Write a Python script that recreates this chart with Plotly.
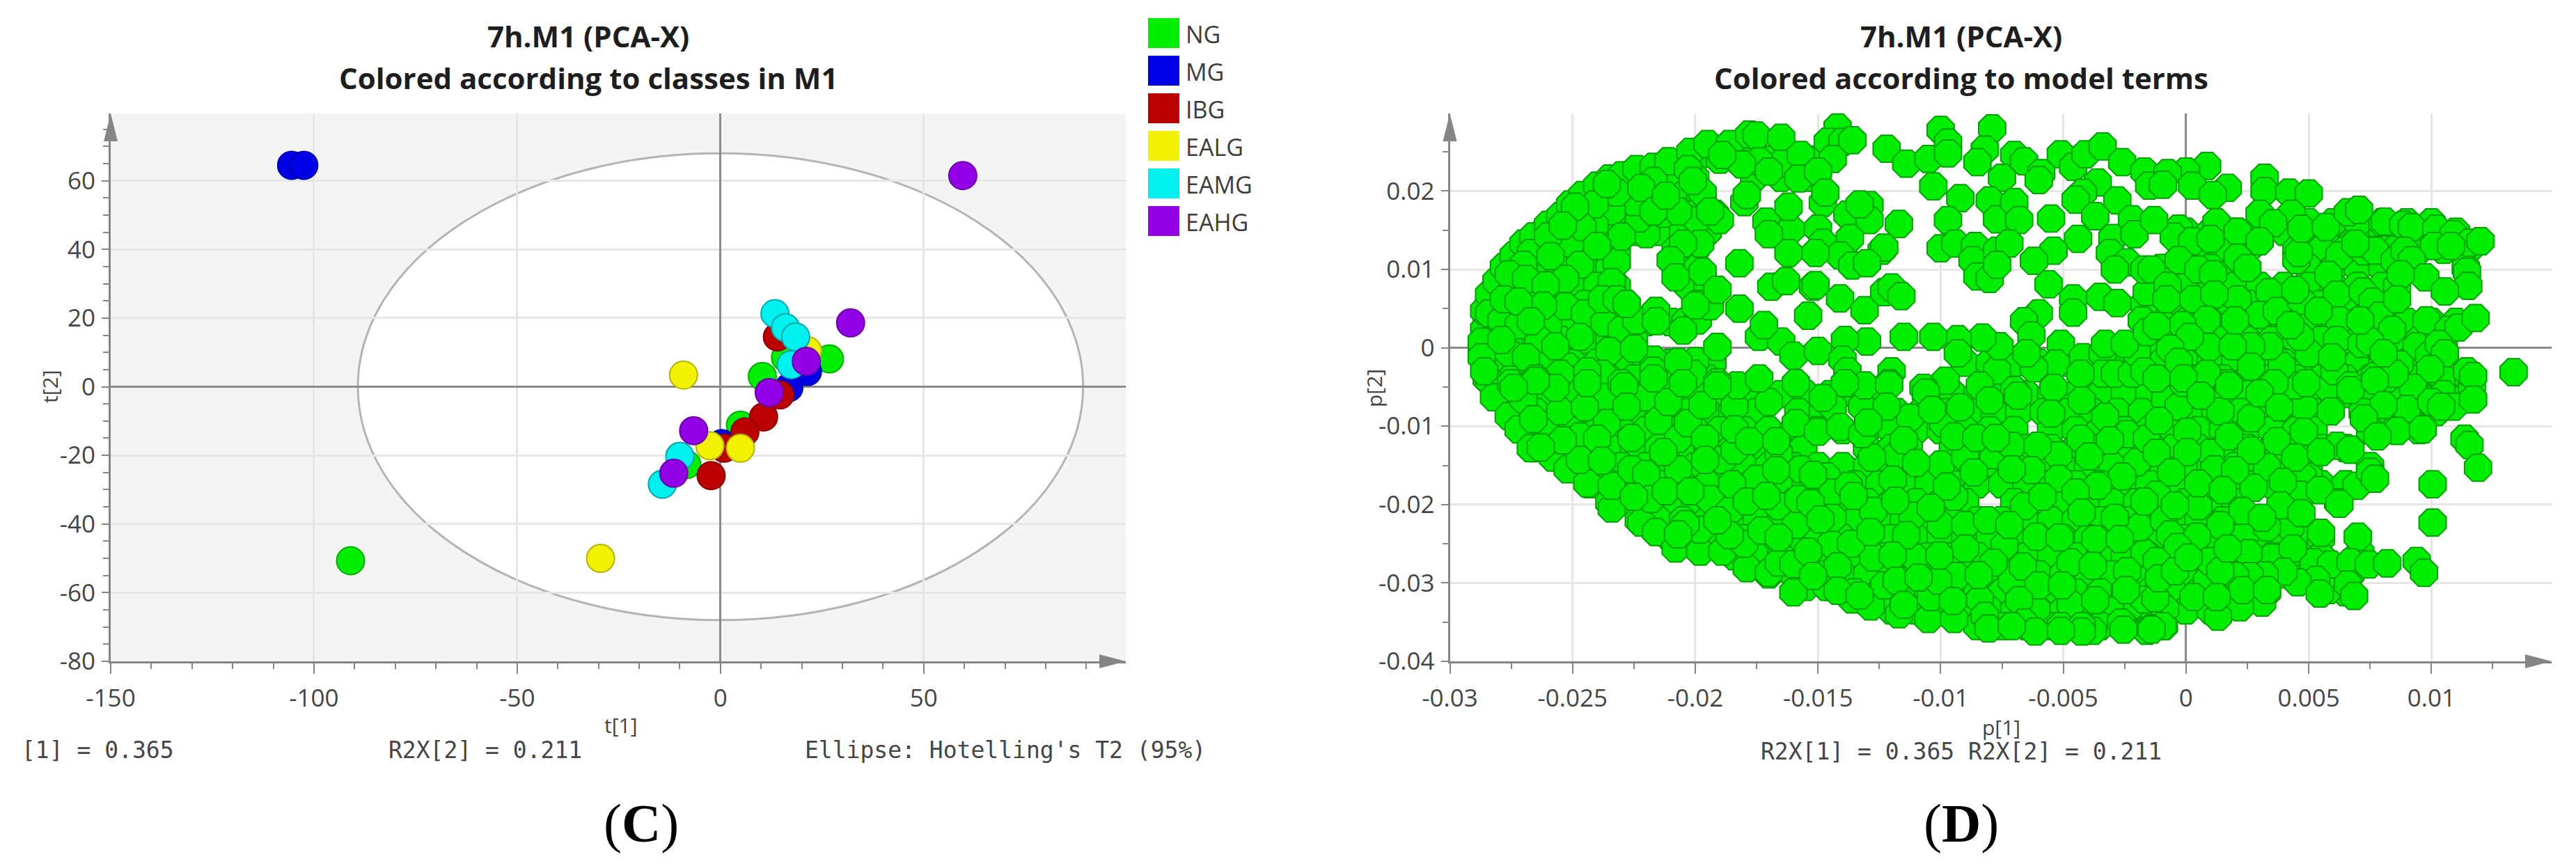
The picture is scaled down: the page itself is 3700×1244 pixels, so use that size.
import plotly.graph_objects as go
from plotly.subplots import make_subplots

W, H = 3700, 1244

# ---------- Panel C: PCA scores ----------
CLASS_NAMES = ["NG", "MG", "IBG", "EALG", "EAMG", "EAHG"]
CLASS_COLORS = ["#00ee00", "#0000e6", "#bb0000", "#f2f200", "#00f0f0", "#9400e6"]
CLASS_RIMS = ["#00b000", "#0000b0", "#8c0000", "#b4b400", "#00a8a8", "#6c00a8"]

NG_T1 = [-91.0, 26.8, 16.0, 10.3, 4.9, -8.3]
NG_T2 = [-50.7, 8.1, 8.5, 3.0, -11.2, -22.7]
MG_T1 = [-105.5, -102.5, 21.4, 16.8, 0.3]
MG_T2 = [64.5, 64.5, 4.4, -0.3, -16.6]
IBG_T1 = [14.0, 14.6, 10.6, 6.0, 0.9, -2.3]
IBG_T2 = [14.5, -2.4, -8.8, -13.2, -17.9, -25.9]
EALG_T1 = [-29.5, 21.4, -9.1, -2.6, 4.9]
EALG_T2 = [-50.0, 10.5, 3.4, -17.2, -17.9]
EAMG_T1 = [13.4, 16.0, 18.5, 17.4, -10.0, -14.3]
EAMG_T2 = [21.3, 17.2, 14.5, 6.4, -20.3, -28.4]
EAHG_T1 = [59.6, 32.0, 21.1, 12.0, -6.6, -11.5]
EAHG_T2 = [61.5, 18.6, 7.4, -1.7, -12.8, -25.2]
CLASS_T1 = [NG_T1, MG_T1, IBG_T1, EALG_T1, EAMG_T1, EAHG_T1]
CLASS_T2 = [NG_T2, MG_T2, IBG_T2, EALG_T2, EAMG_T2, EAHG_T2]

T_X_TICKS = [-150, -100, -50, 0, 50]
T_Y_TICKS = [-80, -60, -40, -20, 0, 20, 40, 60]
ELLIPSE_RX, ELLIPSE_RY = 89.2, 68.0

# ---------- Panel D: PCA loadings, in units of 0.001 (p[1], p[2]) ----------
# Dense body of the cloud, read row by row: (p[2], [p[1], ...])
BODY_ROWS = [
 (24.0, [-20,-19,-18,-17,-16,-15]),
 (21.7, [-23,-22,-21,-20,-17.6,-16.5,-15.5]),
 (19.4, [-24.5,-23.5,-22.5,-21.5,-20.5,-19.8]),
 (17.1, [-25,-24,-23,-22,-21,-20,-19.2]),
 (14.8, [-26.2,-25.5,-24.5,-23.5,-22.5,-21.5,-20.5,-19.5, 0,1,2,3,4,5,6,7,8,9,10,11]),
 (16.0, [5,6,7,8,9,10]),
 (12.5, [-27,-26,-25,-24,-23.2,-20.8,-20, 0.5,1.5,2.5,4.5,5.5,6.5,7.5,8.5,9.5,10.5,11.5]),
 (10.2, [-27.5,-26.5,-25.5,-24.5,-23.5,-20.7,-19.9, -1,0,1,2,5,6,7,8,9,11.4]),
 (7.9, [-28,-27,-26,-25,-24,-23.2,-20.3,-19.5, -1,0,1,2,3,4,5,6,7,8,8.6]),
 (5.6, [-28.4,-27.5,-26.5,-25.5,-24.5,-23.5,-22.8,-19.9, -1.4,-0.5,0.5,1.5,2.5,3.5,4.5,5.5,6.5,7.5,8.5]),
 (3.3, [-28.5,-28,-27,-26,-25,-24,-23,-22,-21,-20.4, -1,0,1,2,3,4,5,6,7,8,9,10,11]),
 (1.0, [-28.5,-27.5,-26.5,-25.5,-24.5,-23.5,-22.5, -1.4,-0.5,0.5,1.5,2.5,3.5,4.5,5.5,6.5,7.5,8.5,9.5,10.5]),
 (-1.9, [-28.5,-28,-27,-26,-25,-24,-23,-22,-21,-20,-19.3, -9,-8,-7,-6,-5,-4,-3,-2,-1,0,1,2,3,4,5,6,7,8,9,10]),
 (-3.9, [-28.5,-27.5,-26.5,-25.5,-24.5,-23.5,-22.5,-21.5,-20.5,-19.5, -0.5,0.5,1.5,2.5,3.5,4.5,5.5,6.5,7.5,8.5,9.5,10.5,11.5]),
 (-5.9, [-28,-27,-26,-25,-24,-23,-22,-21,-20,-19,-18,-16.5,-15.5,-14.5,-13.5,-12.5,-10.6,-9.5,-8.5,-7.5,-6.5,-5.5,-4.5,-3.5,-2.5,-1.5,-0.5,0.5,1.5,2.5,3.5,4.5,5.5,6.5,7.5,8.5,9.5,10.5,11.5]),
 (-8.2, [-27.5,-26.5,-25.5,-24.5,-23.5,-22.5,-21.5,-20.5,-19.5,-18.5,-17.5,-15.8,-14.8,-12.8,-11.8,-10.8,-9.8,-8.8,-7.8,-6.8,-5.8,-4.8,-3.8,-2.8,-1.8,-0.8,0.2,1.2,2.2,3.2,4.2,5.2,7.2,8.2,9.2,10.2]),
 (-10.5, [-27,-26,-25,-24,-23,-22,-21,-20,-19,-18,-17,-16,-15,-14,-13,-12,-11,-10,-9,-8,-7,-5.5,-4.5,-3.5,-2.5,-1.5,-0.5,0.5,1.5,2.5,3.5,4.5,5.2,7.5,8.5,9.5]),
 (-12.8, [-26.5,-25.5,-24.5,-23.5,-22.5,-21.5,-20.5,-19.5,-18.5,-17.5,-16.5,-15.6,-13,-12,-11.3,-9.5,-8.5,-7.5,-6.5,-5.5,-4.5,-3.5,-2.5,-1.5,-0.5,0.5,1.5,2.5,3.5,4.5,5.5,6.5]),
 (-15.1, [-25,-24,-23,-22,-21,-20,-19,-18,-17,-16,-15,-14,-13,-12,-11,-10,-9,-8,-7,-6,-5,-4,-3,-2,-1,0,1,2,3,4,5,7.5]),
 (-17.4, [-24.3,-23.5,-22.5,-21.5,-20.5,-19.5,-18.5,-17.5,-16.5,-15.5,-14.5,-13.5,-12.5,-11.5,-10.5,-9.5,-8.5,-7.5,-6.5,-5.5,-4.5,-3.5,-2.5,-1.5,-0.5,0.5,1.5,2.5,3.5,4.5,5.5,6.5]),
 (-19.7, [-23.5,-23,-22,-21,-20,-19,-18,-17,-16,-15,-14,-13,-12,-11,-10,-9,-7,-6,-5,-4,-3,-2,-1,0,1,2,4,4.6,6.2]),
 (-22.0, [-22.3,-21.5,-20.5,-19.5,-18.5,-17.5,-16.5,-15.5,-14.5,-13.5,-12.5,-11.5,-10.5,-9.5,-8.5,-7.5,-6.5,-5.5,-4.5,-3.5,-2.5,-1.5,-0.5,0.5,1.5,2.5,3.5,4.5]),
 (-24.3, [-21,-20,-19,-18,-17,-16,-15,-14,-13,-12,-11,-10,-9,-8,-7,-6,-5,-4,-3,-2,-1,0,1,2,3,4,5,5.5]),
 (-26.6, [-18.4,-17.5,-16.5,-15.5,-14.5,-13.5,-12.5,-11.5,-10.5,-9.5,-8.5,-7.5,-6.5,-5.5,-4.5,-3.5,-2.5,-1.5,-0.5,0.5,1.5,2.5,3.5,4.5,5.5,7]),
 (-28.9, [-17,-16,-15,-14,-13,-12,-11,-10,-9,-8,-7,-6,-5,-4,-3,-2,-1,0,1,2,3,4,5,6,6.7]),
 (-30.5, [-15.5,-14.5]),
 (-31.2, [-13.5,-12.5,-11.5,-10.5,-9.5,-8.5,-7.5,-6.5,-5.5,-4.5,-3.5,-2.5,-1.5,-0.5,0.5,1.5,2.5,3.3,5.5,6.5]),
 (-33.5, [-12,-11,-10,-9,-8,-7,-6,-5,-4,-3,-2,-1,0,1,1.5]),
 (-35.5, [-8.5,-7.5,-6.5,-5.5,-4.5,-3.5,-2.5,-1.5,-0.9]),
]
UPPER_LEFT_EDGE = [(-28.7,-0.05),(-28.6,2.3),(-28.6,4.7),(-28.4,6.8),(-28.1,8.5),(-27.8,10.3),(-27.4,11.8),(-27.0,13.3),(-26.6,14.2),(-26.0,15.7),(-25.5,16.8),(-25.1,18.3),(-24.6,19.5),(-24.0,20.7),(-23.5,21.6),(-23.0,22.0),(-22.4,22.8),(-21.7,23.1),(-21.1,23.8),(-20.2,25.0),(-19.5,26.0),(-18.6,26.0),(-17.8,27.2),(-17.5,27.1),(-16.5,26.8)]
UPPER_LEFT_FILL = [(-22.0,14.5),(-21.3,17.1),(-19.9,16.3),(-19.0,16.3),(-19.8,13.3),(-22.3,16.5),(-22.5,18.6),(-21.7,21.3),(-23.4,17.4),(-24.1,15.6),(-25.1,13.3),(-23.2,10.9),(-24.7,10.6),(-25.3,8.8),(-26.7,12.1),(-28.4,4.4),(-27.9,3.5),(-28.7,0.8),(-28.7,-1.2),(-27.6,-0.6),(-26.0,2.9),(-25.3,5.3),(-24.5,4.4),(-23.7,3.2),(-23.0,2.3),(-22.4,3.5),(-23.5,-0.4),(-21.7,-1.5),(-25.2,-2.4),(-23.8,-3.3),(-20.0,-1.7),(-20.1,-3.3),(-21.0,-4.2),(-25.5,-3.3),(-26.4,1.1),(-27.2,2.9),(-19.9,3.5),(-19.4,5.3),(-20.7,17.4),(-20.3,22.8),(-23.2,19.8),(-24.1,18.3),(-26.0,14.2),(-27.0,10.6),(-22.2,20.4),(-24.6,15.4),(-21.7,17.4)]
UPPER_LEFT_SEEN = [(-23.6,20.9),(-24.9,18.0),(-25.4,15.6),(-23.0,14.2),(-24.0,13.0),(-25.9,11.7),(-27.6,9.4),(-26.9,8.8),(-26.1,8.0),(-23.4,8.4),(-26.2,5.4),(-27.8,6.2),(-27.2,5.9),(-23.8,6.2),(-23.2,6.2),(-22.8,5.6),(-26.7,3.4),(-24.7,1.4),(-27.9,1.0),(-25.7,0.2),(-26.9,-1.2),(-22.5,-0.1),(-24.4,-3.0),(-21.7,-2.9),(-20.7,-1.8),(-26.5,-3.9),(-27.5,-4.5),(-28.6,-3.0),(-23.0,-4.5),(-21.2,19.4),(-19.7,19.8),(-19.4,17.4),(-20.5,13.3),(-21.0,11.2),(-20.8,9.0),(-19.7,9.7),(-19.1,7.4),(-20.0,5.4),(-20.5,2.2),(-21.6,4.7),(-21.6,3.4),(-20.1,21.3),(-19.1,0.1),(-18.2,5.0),(-18.0,18.6),(-17.9,19.5),(-18.2,10.8),(-16.9,7.8),(-16.3,8.5),(-17.4,1.4),(-16.5,0.8),(-16.0,-1.0),(-17.4,-3.9),(-19.1,-4.4),(-17.1,16.1),(-16.1,15.1),(-16.2,12.1),(-16.2,18.0),(-17.0,14.5),(-17.2,2.9),(-16.5,23.5),(-17.4,23.8),(-18.1,23.4),(-18.9,24.6),(-15.7,24.6),(-15.8,21.6),(-17.0,22.5)]
UPPER_MID = [(-14.2,28.1),(-14.6,26.3),(-14.0,26.3),(-13.6,26.5),(-14.4,24.1),(-12.2,25.4),(-11.4,23.5),(-10.5,24.1),(-10.0,27.8),(-9.7,26.2),(-9.7,24.8),(-7.9,28.0),(-8.2,25.3),(-8.5,23.7),(-10.3,20.6),(-7.0,24.6),(-6.6,23.8),(-5.9,22.3),(-6.0,21.4),(-7.5,21.7),(-5.1,24.7),(-4.6,23.1),(-4.1,24.7),(-3.4,25.7),(-2.6,23.7),(-3.6,21.1),(-4.2,19.8),(-4.5,18.9),(-2.8,18.8),(-1.7,22.5),(-1.5,20.7),(-3.7,16.8),(-2.2,16.4),(-5.5,16.5),(-4.4,13.9),(-3.0,14.0),(-2.1,14.5),(-3.1,12.1),(-2.4,10.9),(-2.9,10.0),(-5.4,12.4),(-6.2,11.1),(-5.6,8.1),(-4.6,6.3),(-3.5,6.5),(-2.8,5.7),(-4.6,4.5),(-6.0,4.4),(-6.6,3.4),(-6.3,1.6),(-5.1,0.5),(-5.3,-2.0),(-6.2,-2.6),(-6.5,-0.7),(-7.7,-2.9),(-7.6,0.2),(-8.3,1.3),(-9.3,1.1),(-10.3,1.4),(-9.3,-0.7),(-11.5,1.4),(-13.0,0.8),(-13.9,1.0),(-15.0,-0.4),(-14.0,-1.5),(-13.8,-3.0),(-13.9,-4.5),(-12.0,-3.0),(-12.1,-4.5),(-13.1,-4.8),(-9.8,-4.2),(-10.7,-5.1),(-8.4,-4.8),(-7.0,-5.4),(-5.4,-5.1),(-4.2,-1.2),(-3.4,-0.7),(-3.4,-3.3),(-2.9,-3.3),(-2.2,-3.3),(-2.0,-0.7),(-3.3,0.5),(-2.5,0.5),(-4.3,-3.3),(-1.7,5.6),(-1.6,7.1),(-1.8,3.5),(-1.6,2.0),(-1.7,10.0),(-1.7,-3.0),(-14.8,18.5),(-13.8,17.0),(-12.9,18.2),(-12.9,16.3),(-11.7,15.8),(-15.0,15.2),(-13.7,14.0),(-14.8,13.4),(-12.4,12.4),(-12.3,12.8),(-14.1,11.8),(-15.1,12.1),(-13.6,10.5),(-13.0,10.8),(-15.0,22.5),(-14.7,19.8),(-13.3,18.3),(-15.2,7.8),(-15.1,8.0),(-15.4,4.1),(-14.1,6.3),(-13.1,4.8),(-12.3,7.1),(-12.0,7.7),(-11.6,6.6),(-9.2,19.1),(-8.0,18.8),(-9.7,16.3),(-7.7,16.4),(-7.0,18.6),(-6.8,16.3),(-10.0,12.7),(-9.4,13.3),(-8.6,13.0),(-8.7,11.2),(-7.7,12.4),(-7.2,13.3),(-8.5,9.1),(-8.0,8.8),(-7.7,10.6)]
UPPER_RIGHT = [(0.86,23.2),(0.0,22.5),(-0.75,22.3),(-0.94,20.8),(0.25,20.7),(1.7,20.4),(1.1,19.5),(3.2,21.7),(3.2,20.0),(4.2,19.8),(5.0,19.7),(3.0,17.1),(4.3,17.1),(3.55,15.9),(1.24,16.0),(-0.3,15.2),(-0.5,14.2),(0.25,13.6),(1.0,13.9),(2.1,14.8),(3.0,13.6),(2.1,11.5),(2.5,10.2),(-1.3,16.3),(-1.4,10.0),(-0.3,11.2),(0.5,10.0),(1.1,9.4),(-0.75,7.9),(0.3,6.2),(-0.8,6.2),(2.1,6.2),(3.4,7.1),(1.15,6.8),(3.0,4.2),(3.7,4.7),(4.7,6.0),(4.5,11.2),(4.6,12.1),(4.7,15.2),(5.7,15.4),(6.6,17.3),(7.05,17.6),(8.1,16.1),(8.85,15.7),(9.2,15.4),(10.2,15.2),(10.9,14.5),(11.55,13.4),(12.0,13.6),(10.1,13.0),(10.8,13.0),(6.25,11.8),(7.25,12.3),(7.7,12.4),(8.5,11.1),(8.9,12.4),(9.2,11.2),(5.8,9.3),(6.9,13.3),(9.75,9.0),(8.75,9.4),(11.45,9.7),(11.5,7.9),(10.55,7.2),(4.45,7.4),(6.15,6.8),(7.2,7.2),(7.6,5.9),(7.9,4.1),(8.6,6.2),(8.4,2.3),(6.25,3.5),(5.4,4.7),(9.8,3.5),(10.7,2.3),(11.1,2.6),(11.8,3.8),(9.4,0.2),(9.9,-1.0),(10.3,0.5),(10.55,-0.7),(8.7,-2.1),(6.15,1.0),(7.15,0.5),(7.5,0.8),(5.0,-0.7),(4.65,1.4),(3.9,-2.3),(3.4,0.2),(2.65,0.2),(0.95,0.1),(1.9,0.2),(2.0,3.5),(0.85,3.6),(-0.15,2.9),(-1.2,2.8),(0.15,1.4),(-0.65,-0.1),(-0.3,-1.8),(2.65,-2.4),(6.05,-3.0),(7.7,-3.6),(8.2,-3.9),(9.95,-2.7),(11.45,-3.0),(11.7,-3.6),(1.7,-4.5),(-0.1,-4.5),(0.85,-3.3),(4.9,-4.5),(6.7,-4.8),(9.25,-5.1),(8.5,-3.3),(3.6,-4.5),(-1.2,-3.9),(5.95,-1.2),(4.25,2.9),(7.1,3.5),(8.05,-0.7),(13.35,-3.1)]
LOWER_LEFT_EDGE = [(-28.4,-4.2),(-28.2,-6.3),(-27.6,-8.7),(-27.2,-10.4),(-26.7,-12.8),(-25.8,-14.0),(-25.2,-15.5),(-24.4,-17.3),(-23.4,-20.5),(-22.2,-22.3),(-21.6,-23.5),(-20.8,-25.6),(-19.8,-26.0),(-18.9,-26.0),(-17.9,-28.1),(-17.0,-28.7),(-16.0,-31.2)]
LOWER_LEFT_FILL = [(-25.5,-8.1),(-23.7,-6.3),(-23.6,-9.6),(-24.7,-11.3),(-24.0,-11.6),(-24.7,-14.3),(-23.4,-17.6),(-22.6,-15.5),(-22.0,-16.1),(-20.7,-15.5),(-21.8,-19.3),(-20.7,-11.6),(-20.3,-9.6),(-19.6,-11.6),(-18.9,-14.3),(-17.5,-16.7),(-19.4,-19.3),(-18.6,-20.8),(-16.6,-20.2),(-15.9,-22.6),(-19.8,-23.2),(-18.0,-25.0),(-16.6,-27.4),(-15.8,-19.3),(-15.7,-15.5),(-15.9,-9.6),(-16.6,-13.4),(-18.4,-7.5),(-27.0,-6.6),(-25.7,-5.1),(-22.0,-6.3),(-18.3,-4.8),(-17.0,-6.9),(-15.9,-4.5),(-16.7,-11.9),(-18.4,-13.1)]
LOWER_LEFT_SEEN = [(-26.5,-4.2),(-27.4,-5.1),(-24.5,-7.6),(-22.9,-4.9),(-22.8,-7.5),(-26.6,-9.1),(-21.5,-9.3),(-21.1,-6.9),(-19.7,-7.3),(-19.1,-4.8),(-18.4,-10.4),(-17.8,-11.9),(-22.6,-11.5),(-25.4,-11.8),(-26.3,-12.7),(-23.8,-14.4),(-21.3,-13.3),(-19.6,-14.3),(-16.7,-15.6),(-18.5,-17.4),(-21.2,-18.3),(-20.2,-18.3),(-22.5,-19.0),(-17.9,-19.6),(-17.1,-18.9),(-20.4,-22.5),(-18.6,-23.9),(-17.3,-23.3),(-16.6,-24.2),(-16.0,-27.6),(-20.7,-23.8),(-19.1,-22.0),(-20.5,-4.5),(-21.7,-3.9),(-24.4,-4.5)]
LOWER_MID_FILL = [(-14.65,-30.5),(-13.6,-32.1),(-12.85,-33.0),(-11.7,-34.0),(-10.5,-34.6),(-9.45,-34.6),(-3.8,-36.1),(-1.6,-36.1),(-14.4,-7.5),(-13.2,-7.5),(-11.25,-8.9),(-11.8,-13.7),(-12.8,-14.0),(-9.9,-9.6),(-10.0,-14.9),(-9.0,-14.0),(-7.85,-13.7),(-5.2,-13.7),(-5.2,-16.7),(-7.1,-12.5),(-2.4,-11.0),(-2.0,-14.6),(-14.65,-16.4),(-14.4,-18.45),(-12.75,-20.8),(-11.15,-21.4),(-9.45,-19.0),(-10.0,-22.6),(-9.0,-22.6),(-6.6,-20.2),(-6.1,-24.1),(-3.7,-24.4),(-12.75,-26.75),(-11.05,-26.75),(-9.0,-25.6),(-9.35,-29.1),(-7.4,-25.25),(-4.7,-27.35),(-7.1,-29.7),(-10.4,-31.8),(-8.4,-32.1),(-4.7,-32.7),(-6.1,-33.3),(-12.3,-30.3),(-1.7,-26.2),(-1.7,-32.1),(-1.9,-22.9),(-1.6,-11.6),(-14.45,-25.0),(-14.4,-21.7),(-10.1,-29.7)]
LOWER_MID_SEEN = [(-13.9,-4.5),(-12.1,-4.7),(-14.8,-6.4),(-12.2,-7.5),(-10.6,-5.7),(-10.35,-7.9),(-9.2,-7.6),(-8.0,-6.7),(-6.85,-6.1),(-5.5,-8.4),(-4.25,-6.7),(-3.3,-8.8),(-15.0,-10.7),(-14.1,-10.1),(-13.2,-11.0),(-12.95,-9.55),(-11.5,-11.8),(-9.45,-11.3),(-8.55,-11.5),(-7.75,-11.5),(-6.05,-12.5),(-4.3,-11.6),(-3.1,-11.8),(-3.95,-13.85),(-11.0,-14.7),(-8.65,-15.9),(-6.3,-15.6),(-7.1,-15.5),(-2.6,-16.4),(-3.6,-17.6),(-4.5,-18.45),(-15.2,-16.2),(-13.75,-17.6),(-13.55,-18.9),(-11.95,-16.8),(-11.85,-19.5),(-9.75,-17.7),(-10.4,-20.4),(-5.85,-19.0),(-15.3,-19.8),(-14.9,-21.9),(-8.1,-22.0),(-7.2,-22.6),(-4.25,-21.0),(-2.9,-21.7),(-1.7,-19.6),(-5.15,-24.2),(-2.7,-24.4),(-13.65,-25.0),(-11.4,-23.9),(-12.85,-23.5),(-15.4,-26.0),(-11.95,-26.5),(-10.05,-26.5),(-14.2,-27.9),(-7.85,-27.4),(-6.65,-27.9),(-8.45,-29.0),(-3.8,-27.8),(-2.4,-28.5),(-11.8,-29.7),(-10.9,-29.3),(-15.2,-29.1),(-6.0,-30.3),(-5.05,-30.3),(-14.2,-31.0),(-13.3,-31.6),(-11.5,-32.8),(-9.5,-32.3),(-6.8,-32.2),(-3.7,-32.2),(-2.45,-30.9),(-5.1,-35.5),(-4.25,-35.5),(-8.2,-34.2),(-6.6,-35.05),(-6.15,-36.2),(-8.05,-35.8),(-2.65,-35.05),(-1.4,-35.8),(-4.25,-36.2),(-7.1,-35.5),(-5.1,-36.1),(-2.55,-35.95)]
LOWER_RIGHT_FILL = [(-0.85,-6.6),(-0.3,-7.5),(1.4,-8.1),(2.65,-9.0),(4.8,-7.5),(4.45,-4.8),(5.8,-5.1),(3.7,-11.9),(1.0,-13.4),(3.3,-15.2),(5.0,-16.4),(1.15,-15.5),(2.75,-17.85),(4.75,-16.4),(0.5,-20.2),(-1.2,-18.75),(-1.2,-13.4),(4.65,-18.75),(2.4,-23.8),(4.25,-22.9),(6.15,-12.5),(9.3,-5.4),(10.9,-7.5),(-0.9,-22.0),(9.2,-9.55),(11.65,-4.8),(7.1,-26.15),(5.2,-27.35),(3.5,-26.75),(0.85,-29.7),(-0.85,-33.3),(5.8,-30.9)]
LOWER_RIGHT_SEEN = [(-0.1,-3.9),(1.75,-4.8),(0.6,-6.1),(3.0,-5.8),(3.8,-7.6),(5.9,-8.1),(6.7,-5.4),(7.7,-4.2),(9.0,-7.8),(8.05,-7.3),(10.0,-6.9),(11.7,-6.6),(10.4,-7.5),(-1.1,-9.3),(0.05,-10.7),(1.75,-11.3),(4.8,-10.7),(7.25,-9.0),(8.6,-10.6),(9.65,-10.4),(7.8,-11.3),(11.35,-11.6),(11.55,-12.4),(11.9,-15.3),(0.05,-13.3),(2.65,-13.1),(4.45,-14.0),(5.5,-13.3),(6.7,-13.0),(2.0,-15.6),(-0.6,-15.9),(0.5,-17.3),(3.95,-17.1),(1.5,-18.15),(5.45,-18.15),(6.95,-17.6),(7.5,-15.8),(7.7,-16.7),(10.05,-17.4),(10.05,-22.3),(6.25,-19.9),(-0.45,-20.1),(2.3,-20.8),(3.85,-20.1),(4.7,-21.1),(1.4,-22.6),(0.45,-24.1),(-0.65,-23.8),(-0.35,-25.4),(5.5,-23.6),(7.0,-24.1),(4.35,-25.6),(2.55,-26.2),(0.95,-27.2),(-1.2,-27.2),(5.9,-27.65),(6.7,-27.35),(7.45,-27.65),(8.2,-27.5),(9.4,-27.2),(9.7,-28.7),(5.3,-29.6),(6.6,-30.2),(4.55,-29.9),(6.85,-31.65),(5.45,-31.35),(3.98,-28.55),(3.2,-29.0),(2.6,-29.1),(2.0,-29.1),(1.4,-28.5),(0.3,-31.8),(-1.25,-31.95),(-1.1,-29.4),(3.1,-32.5),(2.2,-33.1),(1.3,-34.3),(-0.95,-35.5),(-1.4,-35.95),(2.3,-30.9),(3.3,-30.9),(1.25,-31.8),(-0.45,-28.5),(0.1,-26.75),(1.7,-25.6),(3.3,-22.9),(3.1,-21.7)]

BODY = [(a, row_y) for row_y, row_x in BODY_ROWS for a in row_x]
LOADING_GROUPS = [BODY, UPPER_LEFT_EDGE, LOWER_LEFT_EDGE, UPPER_LEFT_FILL, LOWER_LEFT_FILL, LOWER_MID_FILL,
                  LOWER_RIGHT_FILL, UPPER_LEFT_SEEN, LOWER_LEFT_SEEN, UPPER_MID, LOWER_MID_SEEN,
                  UPPER_RIGHT, LOWER_RIGHT_SEEN]
P1 = [a * 0.001 for g in LOADING_GROUPS for a, _ in g]
P2 = [b * 0.001 for g in LOADING_GROUPS for _, b in g]

P_X_TICKS = [-0.03, -0.025, -0.02, -0.015, -0.01, -0.005, 0, 0.005, 0.01]
P_X_LABELS = ["-0.03", "-0.025", "-0.02", "-0.015", "-0.01", "-0.005", "0", "0.005", "0.01"]
P_Y_TICKS = [-0.04, -0.03, -0.02, -0.01, 0, 0.01, 0.02]
P_Y_LABELS = ["-0.04", "-0.03", "-0.02", "-0.01", "0", "0.01", "0.02"]

# ---------- layout in pixels (the page body adds an 8 px margin) ----------
PAGE_MARGIN = 8
def fx(px): return (px - PAGE_MARGIN) / W
def fy(py): return 1 - (py - PAGE_MARGIN) / H

LEFT = (159, 1617, 163, 950)
RIGHT = (2082.5, 3665, 163, 950)
GRID = "#e6e6e6"
AXIS = "#858585"
ZERO = "#8a8a8a"
TEXT = "#454545"
TICK_FONT = dict(family="Open Sans", size=35, color=TEXT)
MONO = dict(family="DejaVu Sans Mono", size=33, color=TEXT)

fig = make_subplots(rows=1, cols=2)

for name, color, rim, t1, t2 in zip(CLASS_NAMES, CLASS_COLORS, CLASS_RIMS, CLASS_T1, CLASS_T2):
    fig.add_trace(go.Scatter(x=t1, y=t2, mode="markers", name=name, showlegend=False, cliponaxis=False,
                             marker=dict(size=40, color=color, line=dict(color=rim, width=2))), row=1, col=1)

fig.add_trace(go.Scatter(x=P1, y=P2, mode="markers", name="Model terms", showlegend=False, cliponaxis=False,
                         marker=dict(symbol="octagon", size=42, color="#00ee00",
                                     line=dict(color="#00a000", width=2))), row=1, col=2)

def axis_style(vals, labels, minor):
    return dict(tickmode="array", tickvals=vals, ticktext=labels, tickfont=TICK_FONT,
                ticks="outside", ticklen=15, tickwidth=2, tickcolor=AXIS,
                showline=True, linecolor=AXIS, linewidth=3, mirror=False,
                showgrid=True, gridcolor=GRID, gridwidth=3,
                zeroline=True, zerolinecolor=ZERO, zerolinewidth=3,
                minor=dict(dtick=minor, tick0=0, ticks="outside", ticklen=8, tickwidth=2, tickcolor=AXIS, showgrid=False),
                automargin=False)

xa1 = axis_style(T_X_TICKS, [str(v) for v in T_X_TICKS], 10)
ya1 = axis_style(T_Y_TICKS, [str(v) for v in T_Y_TICKS], 5)
xa2 = axis_style(P_X_TICKS, P_X_LABELS, 0.0025)
ya2 = axis_style(P_Y_TICKS, P_Y_LABELS, 0.005)
xa1.update(domain=[fx(LEFT[0]), fx(LEFT[1])], range=[-150, 99.7], ticklabelstandoff=5)
ya1.update(domain=[fy(LEFT[3]), fy(LEFT[2])], range=[-80, 79.6], ticklen=10, ticklabelstandoff=2)
xa2.update(domain=[fx(RIGHT[0]), fx(RIGHT[1])], range=[-0.03, 0.0149], ticklabelstandoff=5)
ya2.update(domain=[fy(RIGHT[3]), fy(RIGHT[2])], range=[-0.04, 0.0299], ticklen=10, ticklabelstandoff=2)
fig.update_layout(xaxis=xa1, yaxis=ya1, xaxis2=xa2, yaxis2=ya2)

shapes = [
    dict(type="rect", xref="x domain", yref="y domain", x0=0, x1=1, y0=0, y1=1,
         fillcolor="#f4f4f4", line_width=0, layer="below"),
    dict(type="circle", xref="x", yref="y", x0=-ELLIPSE_RX, x1=ELLIPSE_RX, y0=-ELLIPSE_RY, y1=ELLIPSE_RY,
         fillcolor="white", line=dict(color="#b4b4b4", width=3), layer="below"),
]

def tri(points):
    return dict(type="path", xref="paper", yref="paper", layer="above", fillcolor=AXIS, line_width=0,
                path="M" + " L".join(f"{fx(a):.5f},{fy(b):.5f}" for a, b in points) + " Z")

for x0, x1, y0, y1 in (LEFT, RIGHT):
    shapes.append(tri([(x0, y0), (x0 - 10, y0 + 40), (x0 + 10, y0 + 40)]))
    shapes.append(tri([(x1, y1), (x1 - 38, y1 - 10), (x1 - 38, y1 + 10)]))

annotations = []
def label(text, x, y, font, xanchor="center", angle=0):
    annotations.append(dict(text=text, x=fx(x), y=fy(y), xref="paper", yref="paper", showarrow=False,
                            xanchor=xanchor, yanchor="middle", font=font, textangle=angle))

TITLE_FONT = dict(family="Open Sans", size=42, color="#1e1e1e")
label("<b>7h.M1 (PCA-X)</b>", 845, 52, TITLE_FONT)
label("<b>Colored according to classes in M1</b>", 845, 111, TITLE_FONT)
label("<b>7h.M1 (PCA-X)</b>", 2817, 52, TITLE_FONT)
label("<b>Colored according to model terms</b>", 2817, 111, TITLE_FONT)

AXIS_TITLE_FONT = dict(family="Open Sans", size=30, color=TEXT)
label("t[1]", 891, 1041, AXIS_TITLE_FONT)
label("t[2]", 71, 556, AXIS_TITLE_FONT, angle=-90)
label("p[1]", 2874, 1044, AXIS_TITLE_FONT)
label("p[2]", 1973, 558, AXIS_TITLE_FONT, angle=-90)

label("[1] = 0.365", 29, 1077, MONO, "left")
label("R2X[2] = 0.211", 556, 1077, MONO, "left")
label("Ellipse: Hotelling's T2 (95%)", 1154, 1077, MONO, "left")
label("R2X[1] = 0.365 R2X[2] = 0.211", 2527, 1079, MONO, "left")

PANEL_FONT = dict(family="Liberation Serif", size=78, color="#000000")
label("(<b>C</b>)", 921, 1182, PANEL_FONT)
label("(<b>D</b>)", 2817, 1182, PANEL_FONT)

for i, (name, color) in enumerate(zip(CLASS_NAMES, CLASS_COLORS)):
    top = 26 + 54 * i
    shapes.append(dict(type="rect", xref="paper", yref="paper", x0=fx(1649), x1=fx(1694),
                       y0=fy(top + 43), y1=fy(top), fillcolor=color, line_width=0))
    label(name, 1701, top + 23, dict(family="Open Sans", size=34, color="#3c3c3c"), "left")

fig.update_layout(width=W, height=H, margin=dict(l=0, r=0, t=0, b=0), autosize=False,
                  paper_bgcolor="white", plot_bgcolor="white", shapes=shapes, annotations=annotations,
                  showlegend=False)
fig.write_html("out.html")
